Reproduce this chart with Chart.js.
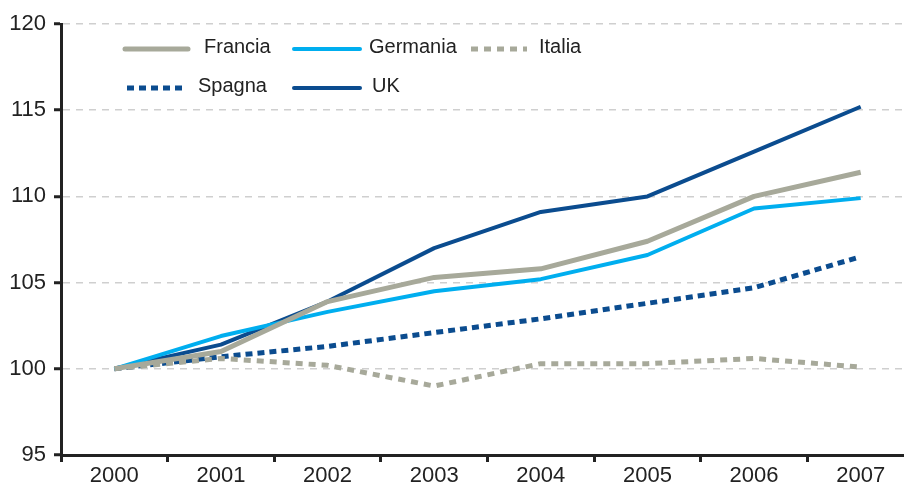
<!DOCTYPE html>
<html>
<head>
<meta charset="utf-8">
<script src="https://cdn.jsdelivr.net/npm/chart.js@4"></script>
<style>
  html, body { margin: 0; padding: 0; background: #fff; overflow: hidden; }
  #wrap { width: 914px; height: 487px; position: relative; }
</style>
</head>
<body>
<div id="wrap"><canvas id="growthChart"></canvas></div>
<script>
const years = ['2000', '2001', '2002', '2003', '2004', '2005', '2006', '2007'];
const francia  = [100, 101.0, 103.9, 105.3, 105.8, 107.4, 110.0, 111.4];
const germania = [100, 101.9, 103.3, 104.5, 105.2, 106.6, 109.3, 109.9];
const italia   = [100, 100.6, 100.2, 99.0, 100.3, 100.3, 100.6, 100.1];
const spagna   = [100, 100.7, 101.3, 102.1, 102.9, 103.8, 104.7, 106.5];
const uk       = [100, 101.4, 103.9, 107.0, 109.1, 110.0, 112.6, 115.2];
const yTicks   = [95, 100, 105, 110, 115, 120];

const GREY = '#a7a99a';
const CYAN = '#00aeef';
const NAVY = '#0b4c8f';
const FONT = "'Liberation Sans', Arial, sans-serif";

// legend drawn by hand inside the plot, two rows like the original
const legendSlots = [
  { line: [125, 188], text: 204, y: 49 },
  { line: [294, 360], text: 369, y: 49 },
  { line: [471, 527], text: 539, y: 49 },
  { line: [127, 184], text: 198, y: 88 },
  { line: [294, 360], text: 372, y: 88 }
];

const insideLegend = {
  id: 'insideLegend',
  afterDraw(chart) {
    const c = chart.ctx;
    chart.data.datasets.forEach((ds, i) => {
      const s = legendSlots[i];
      c.save();
      c.strokeStyle = ds.borderColor;
      c.lineWidth = ds.borderWidth;
      c.setLineDash(ds.borderDash || []);
      c.lineCap = ds.borderDash ? 'butt' : 'round';
      c.beginPath();
      c.moveTo(s.line[0], s.y);
      c.lineTo(s.line[1], s.y);
      c.stroke();
      c.setLineDash([]);
      c.fillStyle = '#222';
      c.font = '20px ' + FONT;
      c.textBaseline = 'middle';
      c.fillText(ds.label, s.text, s.y - 2);
      c.restore();
    });
  }
};

new Chart(document.getElementById('growthChart'), {
  type: 'line',
  data: {
    labels: years,
    datasets: [
      { label: 'Francia', data: francia, borderColor: GREY, borderWidth: 5 },
      { label: 'Germania', data: germania, borderColor: CYAN, borderWidth: 4 },
      { label: 'Italia', data: italia, borderColor: GREY, borderWidth: 5, borderDash: [7, 6] },
      { label: 'Spagna', data: spagna, borderColor: NAVY, borderWidth: 5, borderDash: [7, 5] },
      { label: 'UK', data: uk, borderColor: NAVY, borderWidth: 4 }
    ]
  },
  options: {
    responsive: true,
    maintainAspectRatio: false,
    animation: false,
    layout: { padding: { top: 24, left: 0, right: 0, bottom: 0 } },
    elements: {
      point: { radius: 0, hoverRadius: 0 },
      line: { tension: 0, fill: false, borderJoinStyle: 'round' }
    },
    plugins: {
      legend: { display: false },
      tooltip: { enabled: false }
    },
    scales: {
      x: {
        offset: true,
        grid: {
          offset: true,
          drawOnChartArea: false,
          drawTicks: true,
          tickLength: 7,
          tickWidth: 3,
          tickColor: '#222'
        },
        border: { color: '#222', width: 3 },
        ticks: { color: '#222', font: { family: FONT, size: 22 }, padding: 1, maxRotation: 0 },
        afterFit(s) { s.height = 32; }
      },
      y: {
        min: 95,
        max: 120,
        afterBuildTicks(s) { s.ticks = yTicks.map(v => ({ value: v })); },
        grid: {
          color: '#cfcfcf',
          lineWidth: 1.5,
          tickLength: 7,
          tickWidth: 3,
          tickColor: '#222'
        },
        border: { color: '#222', width: 3, dash: [7, 6] },
        ticks: { color: '#222', font: { family: FONT, size: 22 }, padding: 8 },
        afterFit(s) { s.width = 61; }
      }
    }
  },
  plugins: [insideLegend]
});
</script>
</body>
</html>
